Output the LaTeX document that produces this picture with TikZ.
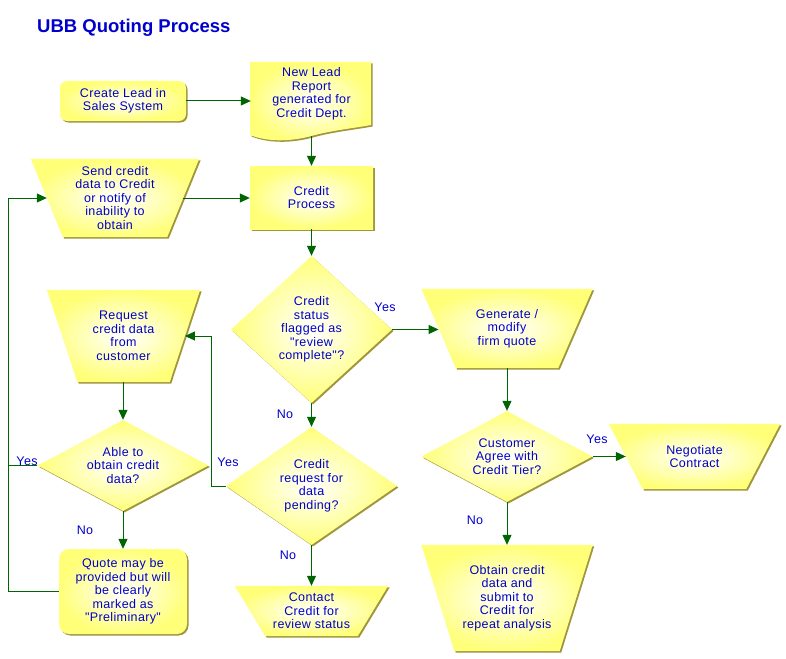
\documentclass[tikz,border=0pt]{standalone}
\usepackage{fontspec}
\setmainfont{Liberation Sans}
\newfontfamily\boxfont{Liberation Sans}[LetterSpace=3]
\usetikzlibrary{shapes.geometric,shadows,arrows.meta,backgrounds}
\definecolor{txtblue}{RGB}{0,0,204}
\definecolor{lngreen}{RGB}{0,100,0}
\definecolor{boxyel}{RGB}{255,255,120}
\definecolor{shadowol}{RGB}{160,150,60}
\tikzset{
 shadowed/.style={drop shadow={shadow xshift=1.5pt, shadow yshift=-1.5pt, fill=shadowol, opacity=1}},
 yelfill/.style={shade, inner color=white, outer color=boxyel, draw=none, shadowed},
 txt/.style={text=txtblue, align=center, font=\boxfont\fontsize{12.5}{13.5}\selectfont},
 box/.style={yelfill, txt, inner sep=0pt},
 rbox/.style={box, rectangle, rounded corners=#1},
 sbox/.style={box, rectangle},
 trapnode/.style={txt, rectangle, inner sep=0pt},
 diabox/.style={box, diamond, shape aspect=#1},
 lbl/.style={txt, inner sep=0pt},
 conn/.style={draw=lngreen, line width=1pt},
 arr/.style={conn, -{Triangle[length=10pt,width=9pt]}},
}
% inverted trapezium behind a node: #1 node name, #2 half of the slant
\newcommand\trapfill[2]{%
  \path[yelfill] ([xshift=-#2]#1.north west) -- ([xshift=#2]#1.north east)
    -- ([xshift=-#2]#1.south east) -- ([xshift=#2]#1.south west) -- cycle;}
\begin{document}
\begin{tikzpicture}[x=1pt,y=1pt]
\useasboundingbox (0,0) rectangle (786,-658);

\node[text=txtblue, font=\fontsize{18.5}{20}\selectfont\bfseries, anchor=base west, inner sep=0pt] (title) at (37,-33) {UBB Quoting Process};

% document shape
\begin{scope}[on background layer]
\fill[white] (0,0) rectangle (786,-658);
\path[yelfill] (250,-62) -- (371,-62) -- (371,-125)
  .. controls (355,-128) and (335,-130) .. (315,-135)
  .. controls (295,-141) and (270,-143) .. (250,-135) -- cycle;
\end{scope}
\node[lbl, minimum width=121pt, minimum height=64pt] (nl) at (311.5,-94) {New Lead\\Report\\generated for\\Credit Dept.};
\coordinate (nlb) at (311.5,-136);

\node[rbox=7pt, minimum width=126pt, minimum height=40pt] (cl) at (123,-101) {Create Lead in\\Sales System};
\node[sbox, minimum width=123pt, minimum height=63pt] (cp) at (311.5,-197.5) {Credit\\Process};

\node[trapnode, minimum width=136pt, minimum height=78pt] (sd) at (115,-198) {Send credit\\data to Credit\\or notify of\\inability to\\obtain};
\node[trapnode, minimum width=122.5pt, minimum height=92pt] (req) at (123.5,-336) {Request\\credit data\\from\\customer};
\node[trapnode, minimum width=136.5pt, minimum height=79pt] (gen) at (507,-328.5) {Generate /\\modify\\firm quote};
\node[trapnode, minimum width=137pt, minimum height=65pt] (neg) at (694.5,-456.5) {Negotiate\\Contract};
\node[trapnode, minimum width=138pt, minimum height=106pt] (obt) at (507,-598) {Obtain credit\\data and\\submit to\\Credit for\\repeat analysis};
\node[trapnode, minimum width=122.5pt, minimum height=50pt] (con) at (311.5,-611) {Contact\\Credit for\\review status};
\begin{scope}[on background layer]
\trapfill{sd}{16pt}
\trapfill{req}{15.25pt}
\trapfill{gen}{17.25pt}
\trapfill{neg}{17pt}
\trapfill{obt}{16.5pt}
\trapfill{con}{15.25pt}
\end{scope}

\node[diabox=1.1, minimum width=161pt, minimum height=147pt] (d1) at (311.5,-329.5) {Credit\\status\\flagged as\\"review\\complete"?};
\node[diabox=1.45, minimum width=171pt, minimum height=118pt] (d2) at (311.5,-486) {Credit\\request for\\data\\pending?};
\node[diabox=1.88, minimum width=171pt, minimum height=91pt] (cust) at (507,-456.5) {Customer\\Agree with\\Credit Tier?};
\node[diabox=1.88, minimum width=171pt, minimum height=91pt] (able) at (123,-465.5) {Able to\\obtain credit\\data?};

\node[rbox=10pt, minimum width=128pt, minimum height=85pt] (q) at (123,-591.5) {Quote may be\\provided but will\\be clearly\\marked as\\"Preliminary"};

% labels
\node[lbl] (y1) at (385,-307) {Yes};
\node[lbl] (n1) at (285,-414) {No};
\node[lbl] (y2) at (228,-462) {Yes};
\node[lbl] (n2) at (288,-555) {No};
\node[lbl] (y4) at (27,-461) {Yes};
\node[lbl] (n4) at (85,-530) {No};
\node[lbl] (y3) at (597,-439) {Yes};
\node[lbl] (n3) at (475,-520) {No};

% connectors
\coordinate (lx) at (8,0);
\draw[arr] (cl.east) -- (cl.east -| nl.west);
\draw[arr] (nlb) -- (cp.north);
\draw[arr] (sd.east) -- (sd.east -| cp.west);
\draw[arr] (cp.south) -- (d1.north);
\draw[arr] (d1.east) -- (d1.east -| gen.west);
\draw[arr] (d1.south) -- (d2.north);
\draw[arr] (d2.south) -- (con.north);
\draw[arr] (d2.west) -- ++(-14,0) |- (req.east);
\draw[arr] (req.south -| able.north) -- (able.north);
\draw[arr] (able.south) -- (q.north);
\draw[arr] (q.west) -- (q.west -| lx) |- (sd.west);
\draw[conn] (able.west) -- (able.west -| lx);
\draw[arr] (gen.south) -- (cust.north);
\draw[arr] (cust.east) -- (cust.east -| neg.west);
\draw[arr] (cust.south) -- (obt.north);
\end{tikzpicture}
\end{document}
